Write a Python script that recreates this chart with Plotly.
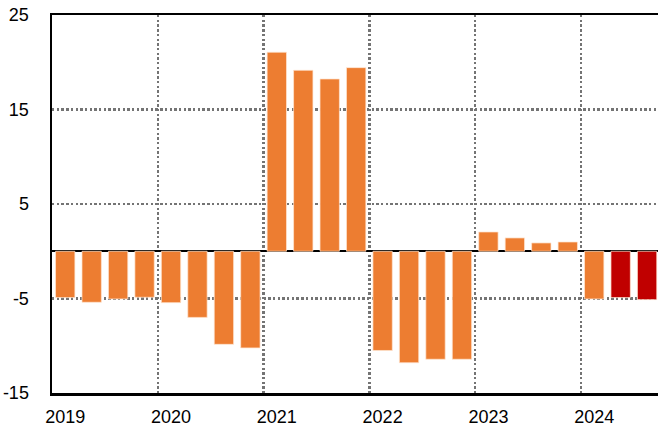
import plotly.graph_objects as go

years = [2019, 2020, 2021, 2022, 2023, 2024]
quarters = ["Q1", "Q2", "Q3", "Q4"]
values_2019 = [-4.9, -5.4, -5.05, -4.87]
values_2020 = [-5.44, -7.0, -9.85, -10.23]
values_2021 = [21.06, 19.15, 18.23, 19.43]
values_2022 = [-10.5, -11.8, -11.43, -11.43]
values_2023 = [2.04, 1.41, 0.88, 0.98]
values_2024 = [-5.05, -4.9, -5.12]
forecast_flags_2024 = [False, True, True]
y_ticks = [-15, -5, 5, 15, 25]
y_grid = [-5, 5, 15]

all_vals = values_2019 + values_2020 + values_2021 + values_2022 + values_2023 + values_2024
xs, ys, cols = [], [], []
i = 0
for y in years:
    for q in range(4):
        if i >= len(all_vals):
            break
        xs.append(y + (q + 0.5) / 4)
        ys.append(all_vals[i])
        forecast = (y == 2024 and forecast_flags_2024[q])
        cols.append("#C00000" if forecast else "#ED7D31")
        i += 1

fig = go.Figure()
fig.add_trace(go.Bar(
    x=xs, y=ys, width=0.183,
    marker=dict(color=cols, line=dict(color="rgba(255,230,210,0.9)", width=0.8)),
    hoverinfo="skip",
))

font = dict(family="Liberation Sans, Arial, sans-serif", size=18, color="black")
grid_style = dict(showgrid=True, gridcolor="#747474", griddash="2.4px,2.3px", gridwidth=2.4, ticks="")

fig.update_layout(
    width=658, height=428,
    margin=dict(l=52, r=0, t=15, b=35),
    paper_bgcolor="white", plot_bgcolor="white",
    showlegend=False,
    font=font,
    bargap=0,
    xaxis=dict(
        range=[2019, 2024.728],
        tickmode="array",
        tickvals=[y + 0.125 for y in years],
        ticktext=[str(y) for y in years],
        showgrid=False,
        showline=True, linecolor="black", linewidth=2.5, mirror=True,
        ticks="", ticklabelstandoff=6,
        zeroline=False,
        automargin=False,
        minor=dict(tickvals=years[1:], **grid_style),
        fixedrange=True,
    ),
    yaxis=dict(
        range=[-15, 25],
        tickmode="array",
        tickvals=y_ticks,
        ticktext=[str(v) for v in y_ticks],
        showgrid=False,
        showline=True, linecolor="black", linewidth=2.5, mirror=False,
        zeroline=True, zerolinecolor="black", zerolinewidth=1.8,
        ticks="", ticklabelstandoff=17,
        automargin=False,
        minor=dict(tickvals=y_grid, **grid_style),
        fixedrange=True,
    ),
)

fig.write_html(
    "out.html",
    config={"displayModeBar": False, "staticPlot": True},
    post_script="document.body.style.margin='0';document.body.style.overflow='hidden';",
)
